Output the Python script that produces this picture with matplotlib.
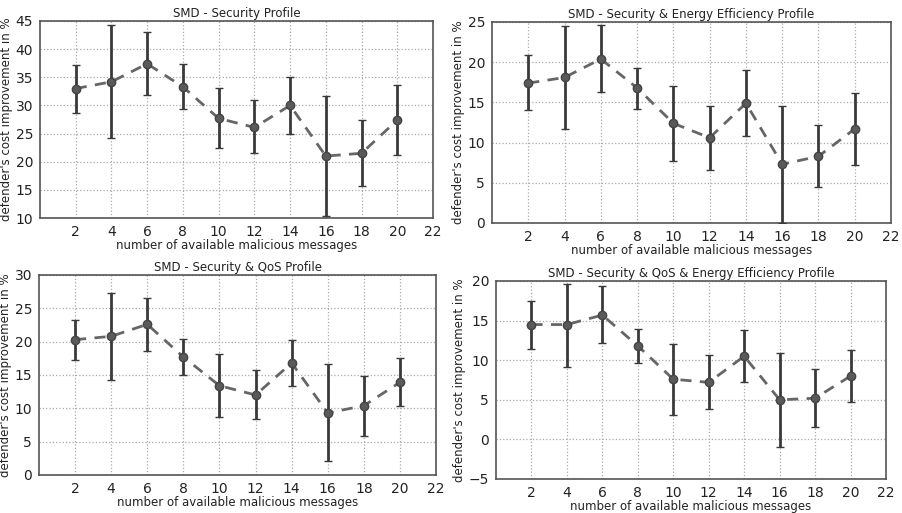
import matplotlib
matplotlib.use("Agg")
import matplotlib.pyplot as plt
import numpy as np

x = [2, 4, 6, 8, 10, 12, 14, 16, 18, 20]
xticks = [2, 4, 6, 8, 10, 12, 14, 16, 18, 20, 22]

titles = ["SMD - Security Profile",
          "SMD - Security & Energy Efficiency Profile",
          "SMD - Security & QoS Profile",
          "SMD - Security & QoS & Energy Efficiency Profile"]

sec_mean = [33.0, 34.2, 37.4, 33.3, 27.7, 26.1, 30.0, 21.0, 21.5, 27.4]
sec_low = [28.7, 24.2, 31.8, 29.3, 22.4, 21.5, 25.0, 10.3, 15.6, 21.2]
sec_high = [37.2, 44.3, 43.0, 37.4, 33.1, 30.9, 35.1, 31.6, 27.4, 33.7]

see_mean = [17.4, 18.1, 20.4, 16.8, 12.4, 10.6, 14.9, 7.3, 8.3, 11.7]
see_low = [14.1, 11.7, 16.3, 14.2, 7.7, 6.6, 10.8, 0.0, 4.5, 7.2]
see_high = [20.9, 24.5, 24.6, 19.3, 17.0, 14.5, 19.0, 14.5, 12.2, 16.2]

sq_mean = [20.3, 20.8, 22.6, 17.7, 13.4, 12.0, 16.8, 9.3, 10.4, 13.9]
sq_low = [17.3, 14.3, 18.6, 15.0, 8.7, 8.4, 13.3, 2.1, 5.8, 10.3]
sq_high = [23.3, 27.3, 26.5, 20.4, 18.1, 15.7, 20.3, 16.6, 14.9, 17.5]

sqe_mean = [14.5, 14.5, 15.7, 11.8, 7.6, 7.2, 10.5, 5.0, 5.2, 8.0]
sqe_low = [11.4, 9.2, 12.2, 9.6, 3.1, 3.8, 7.2, -0.9, 1.6, 4.7]
sqe_high = [17.5, 19.6, 19.4, 14.0, 12.1, 10.6, 13.8, 10.9, 8.9, 11.3]

ylims = [(10, 45), (0, 25), (0, 30), (-5, 20)]
yticks = [[10, 15, 20, 25, 30, 35, 40, 45],
          [0, 5, 10, 15, 20, 25],
          [0, 5, 10, 15, 20, 25, 30],
          [-5, 0, 5, 10, 15, 20]]

series = [(sec_mean, sec_low, sec_high), (see_mean, see_low, see_high),
          (sq_mean, sq_low, sq_high), (sqe_mean, sqe_low, sqe_high)]

# axes rectangles in pixels: left, right, top, bottom
rects = [(40, 433, 21, 218), (492, 891, 22, 223),
         (39, 436, 275, 475), (496, 886, 281, 479)]

W, H = 902, 513
fig = plt.figure(figsize=(W / 100, H / 100), dpi=100)

for i in range(4):
    l, r, t, b = rects[i]
    ax = fig.add_axes([l / W, 1 - b / H, (r - l) / W, (b - t) / H])
    m, lo, hi = series[i]
    m = np.array(m); lo = np.array(lo); hi = np.array(hi)
    yerr = [m - lo, hi - m]
    line, caps, bars = ax.errorbar(x, m, yerr=yerr, fmt='o', color='#555555',
                                   ms=6, mec='#444444', mfc='#5a5a5a',
                                   ecolor='#3a3a3a', elinewidth=2.0,
                                   capsize=3, capthick=1, zorder=3)
    for c in caps:
        c.set_color('#aaaaaa')
    ax.plot(x, m, linestyle='--', color='#666666', lw=2, dashes=(4, 3), zorder=2)
    ax.set_xlim(0, 22)
    ax.set_xticks(xticks)
    ax.set_ylim(*ylims[i])
    ax.set_yticks(yticks[i])
    ax.grid(True, linestyle=':', color='#aaaaaa', lw=0.9)
    ax.set_axisbelow(True)
    for s in ax.spines.values():
        s.set_color('#555555')
        s.set_linewidth(1.2)
    ax.tick_params(labelsize=10, length=0, colors='#222222', pad=5)
    ax.set_title(titles[i], fontsize=8.5, color='#222222', pad=3)
    ax.set_xlabel("number of available malicious messages", fontsize=8.5,
                  color='#222222', labelpad=0)
    ax.set_ylabel("defender's cost improvement in %", fontsize=8.5,
                  color='#222222', labelpad=2)

fig.savefig("out.png", dpi=100)
